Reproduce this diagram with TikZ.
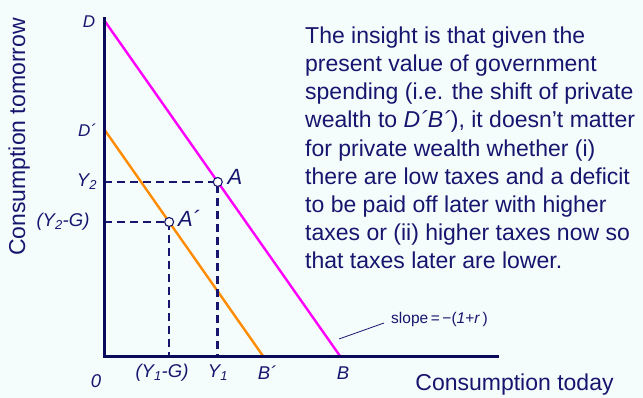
\documentclass[tikz,border=0pt]{standalone}
\usepackage{fontspec}
\setmainfont{Liberation Sans}
\usetikzlibrary{calc}
\definecolor{navy}{RGB}{22,22,110}
\definecolor{axisnavy}{RGB}{10,10,90}
\definecolor{bgc}{RGB}{245,252,252}
\definecolor{mag}{RGB}{255,0,255}
\definecolor{orng}{RGB}{255,140,0}
\tikzset{
  axisline/.style={draw=axisnavy, line width=3pt},
  budget/.style={line width=2.4pt},
  guide/.style={draw=navy, line width=2.6pt, dash pattern=on 8pt off 5pt},
  lbl/.style={text=navy, inner sep=0pt, font=\fontsize{18.5}{21}\selectfont\itshape},
  biglbl/.style={text=navy, inner sep=0pt, font=\fontsize{22}{24}\selectfont\itshape},
  ptmark/.style={circle, draw=navy, fill=white, minimum size=9pt, inner sep=0pt, line width=1.1pt},
  bigtxt/.style={text=navy, inner sep=0pt, font=\fontsize{23}{28.2}\selectfont},
}
\begin{document}
\begin{tikzpicture}[x=1pt,y=-1pt]
\fill[bgc] (0,0) rectangle (643,398);
\useasboundingbox (0,0) rectangle (643,398);
% key points
\coordinate (O) at (104,356);
\coordinate (Ytop) at (104,17);
\coordinate (Xend) at (499,356);
\coordinate (D) at (104,20);
\coordinate (B) at (340,356);
\coordinate (Dp) at (104,129);
\coordinate (Bp) at (263,356);
% budget lines
\draw[budget, mag] (D) -- (B);
\draw[budget, orng] (Dp) -- (Bp);
% points
\coordinate (Apos) at ($(D)!0.4821!(B)$);
\coordinate (Appos) at ($(Dp)!0.4097!(Bp)$);
% dashed guides
\draw[guide] (O |- Apos) -- (Apos) -- (Apos |- O);
\draw[guide] (O |- Appos) -- (Appos) -- (Appos |- O);
% axes
\draw[axisline] (Ytop) -- (O) -- (Xend);
\node[ptmark] (A) at (Apos) {};
\node[ptmark] (Ap) at (Appos) {};
% labels
\node[lbl, font=\fontsize{17}{20}\selectfont\itshape] (labD) at (89,22) {D};
\node[lbl, font=\fontsize{17}{20}\selectfont\itshape] (labDp) at (87,130) {D´};
\node[lbl] (labY2) at (87,182) {Y\textsubscript{2}};
\node[lbl] (labY2G) at (63,222) {(Y\textsubscript{2}-G)};
\node[lbl] (lab0) at (96,381) {0};
\node[lbl] (labY1G) at (162,373) {(Y\textsubscript{1}-G)};
\node[lbl] (labY1) at (218,373) {Y\textsubscript{1}};
\node[lbl] (labBp) at (267,373) {B´};
\node[lbl] (labB) at (343,373) {B};
\node[biglbl] (labA) at (235,177) {A};
\node[biglbl] (labAp) at (189,218) {A´};
% slope annotation
\coordinate (slopept) at (339,339);
\coordinate (slopeend) at (384,323);
\node[text=navy, inner sep=0pt, anchor=west, font=\fontsize{15.5}{18}\selectfont] (slope) at (391,319) {slope\,=\,−(\textit{1}+\textit{r}\,)};
\draw[navy, line width=0.8pt] (slopept) -- (slopeend);
% axis titles
\node[bigtxt, anchor=base] (xtitle) at (514.5,390) {Consumption today};
\node[bigtxt, anchor=base, rotate=90] (ytitle) at (25,137) {Consumption tomorrow};
% explanatory text
\node[bigtxt, anchor=north west, align=left] (insight) at (305,26.5) {The insight is that given the\\present value of government\\spending (i.e. the shift of private\\wealth to \textit{D´B´}), it doesn’t matter\\for private wealth whether (i)\\there are low taxes and a deficit\\to be paid off later with higher\\taxes or (ii) higher taxes now so\\that taxes later are lower.};
\end{tikzpicture}
\end{document}
